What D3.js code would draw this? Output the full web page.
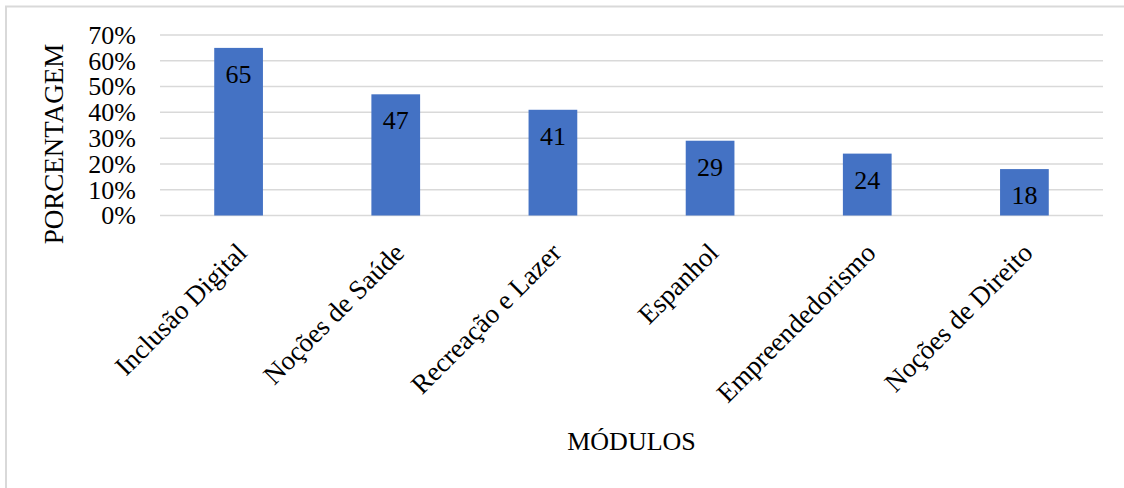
<!DOCTYPE html>
<html>
<head>
<meta charset="utf-8">
<script src="https://cdn.jsdelivr.net/npm/d3@7"></script>
<style>
  html, body { margin: 0; padding: 0; background: #fff; }
  svg { display: block; }
  svg text { font-family: "Liberation Serif", "DejaVu Serif", serif !important; fill: #000; }
</style>
</head>
<body>
<svg id="chart" width="1124" height="488"></svg>
<script>
// Module names and share of participants (%)
const categories = ["Inclusão Digital", "Noções de Saúde", "Recreação e Lazer", "Espanhol", "Empreendedorismo", "Noções de Direito"];
const values = [65, 47, 41, 29, 24, 18];
const yTicks = [0, 10, 20, 30, 40, 50, 60, 70];
const yTitle = "PORCENTAGEM";
const xTitle = "MÓDULOS";

const svg = d3.select("#chart");
const W = 1124, H = 488;
const plot = { left: 160, right: 1103, top: 35, bottom: 215.5 };
const fontSize = 26;
const serif = "'Liberation Serif', 'DejaVu Serif', serif";

// outer frame
svg.append("rect")
  .attr("x", 6).attr("y", 6.5)
  .attr("width", W + 20).attr("height", H + 20)
  .attr("fill", "#fff")
  .attr("stroke", "#d9d9d9").attr("stroke-width", 2);

const x = d3.scaleBand().domain(categories).range([plot.left, plot.right]).paddingInner(0.69).paddingOuter(0.345);
const y = d3.scaleLinear().domain([0, 70]).range([plot.bottom, plot.top]);

// horizontal gridlines
svg.append("g").selectAll("line").data(yTicks).join("line")
  .attr("x1", plot.left).attr("x2", plot.right)
  .attr("y1", d => y(d)).attr("y2", d => y(d))
  .attr("stroke", "#d9d9d9").attr("stroke-width", 1.5);

// y axis labels
const yAxis = d3.axisLeft(y).tickValues(yTicks).tickFormat(d => d + "%").tickSize(0).tickPadding(24);
const gy = svg.append("g").attr("transform", `translate(${plot.left},0)`).call(yAxis)
  .attr("font-family", serif).attr("font-size", fontSize);
gy.select(".domain").remove();
gy.selectAll("text").attr("fill", "#000");

// bars
svg.append("g").selectAll("rect").data(values).join("rect")
  .attr("x", (d, i) => x(categories[i]))
  .attr("width", x.bandwidth())
  .attr("y", d => y(d))
  .attr("height", d => y(0) - y(d))
  .attr("fill", "#4472c4");

// value labels inside bar tops
svg.append("g").attr("font-family", serif).selectAll("text").data(values).join("text")
  .attr("x", (d, i) => x(categories[i]) + x.bandwidth() / 2)
  .attr("y", d => y(d) + 35)
  .attr("text-anchor", "middle")
  .attr("font-size", fontSize)
  .text(d => d);

// rotated category labels
const xAxis = d3.axisBottom(x).tickSize(0).tickPadding(0);
const gx = svg.append("g").attr("transform", `translate(0,${plot.bottom})`).call(xAxis)
  .attr("font-family", serif).attr("font-size", 27);
gx.select(".domain").remove();
gx.selectAll(".tick text")
  .attr("fill", "#000")
  .attr("text-anchor", "end")
  .attr("dy", 0).attr("y", 0)
  .attr("transform", "translate(10,39) rotate(-45)");

// axis titles
svg.append("text")
  .attr("transform", `translate(${(plot.left + plot.right) / 2},450)`)
  .attr("text-anchor", "middle")
  .attr("font-size", fontSize)
  .text(xTitle);

svg.append("text")
  .attr("transform", "translate(63,144) rotate(-90)")
  .attr("text-anchor", "middle")
  .attr("font-size", 27)
  .text(yTitle);
</script>
</body>
</html>
